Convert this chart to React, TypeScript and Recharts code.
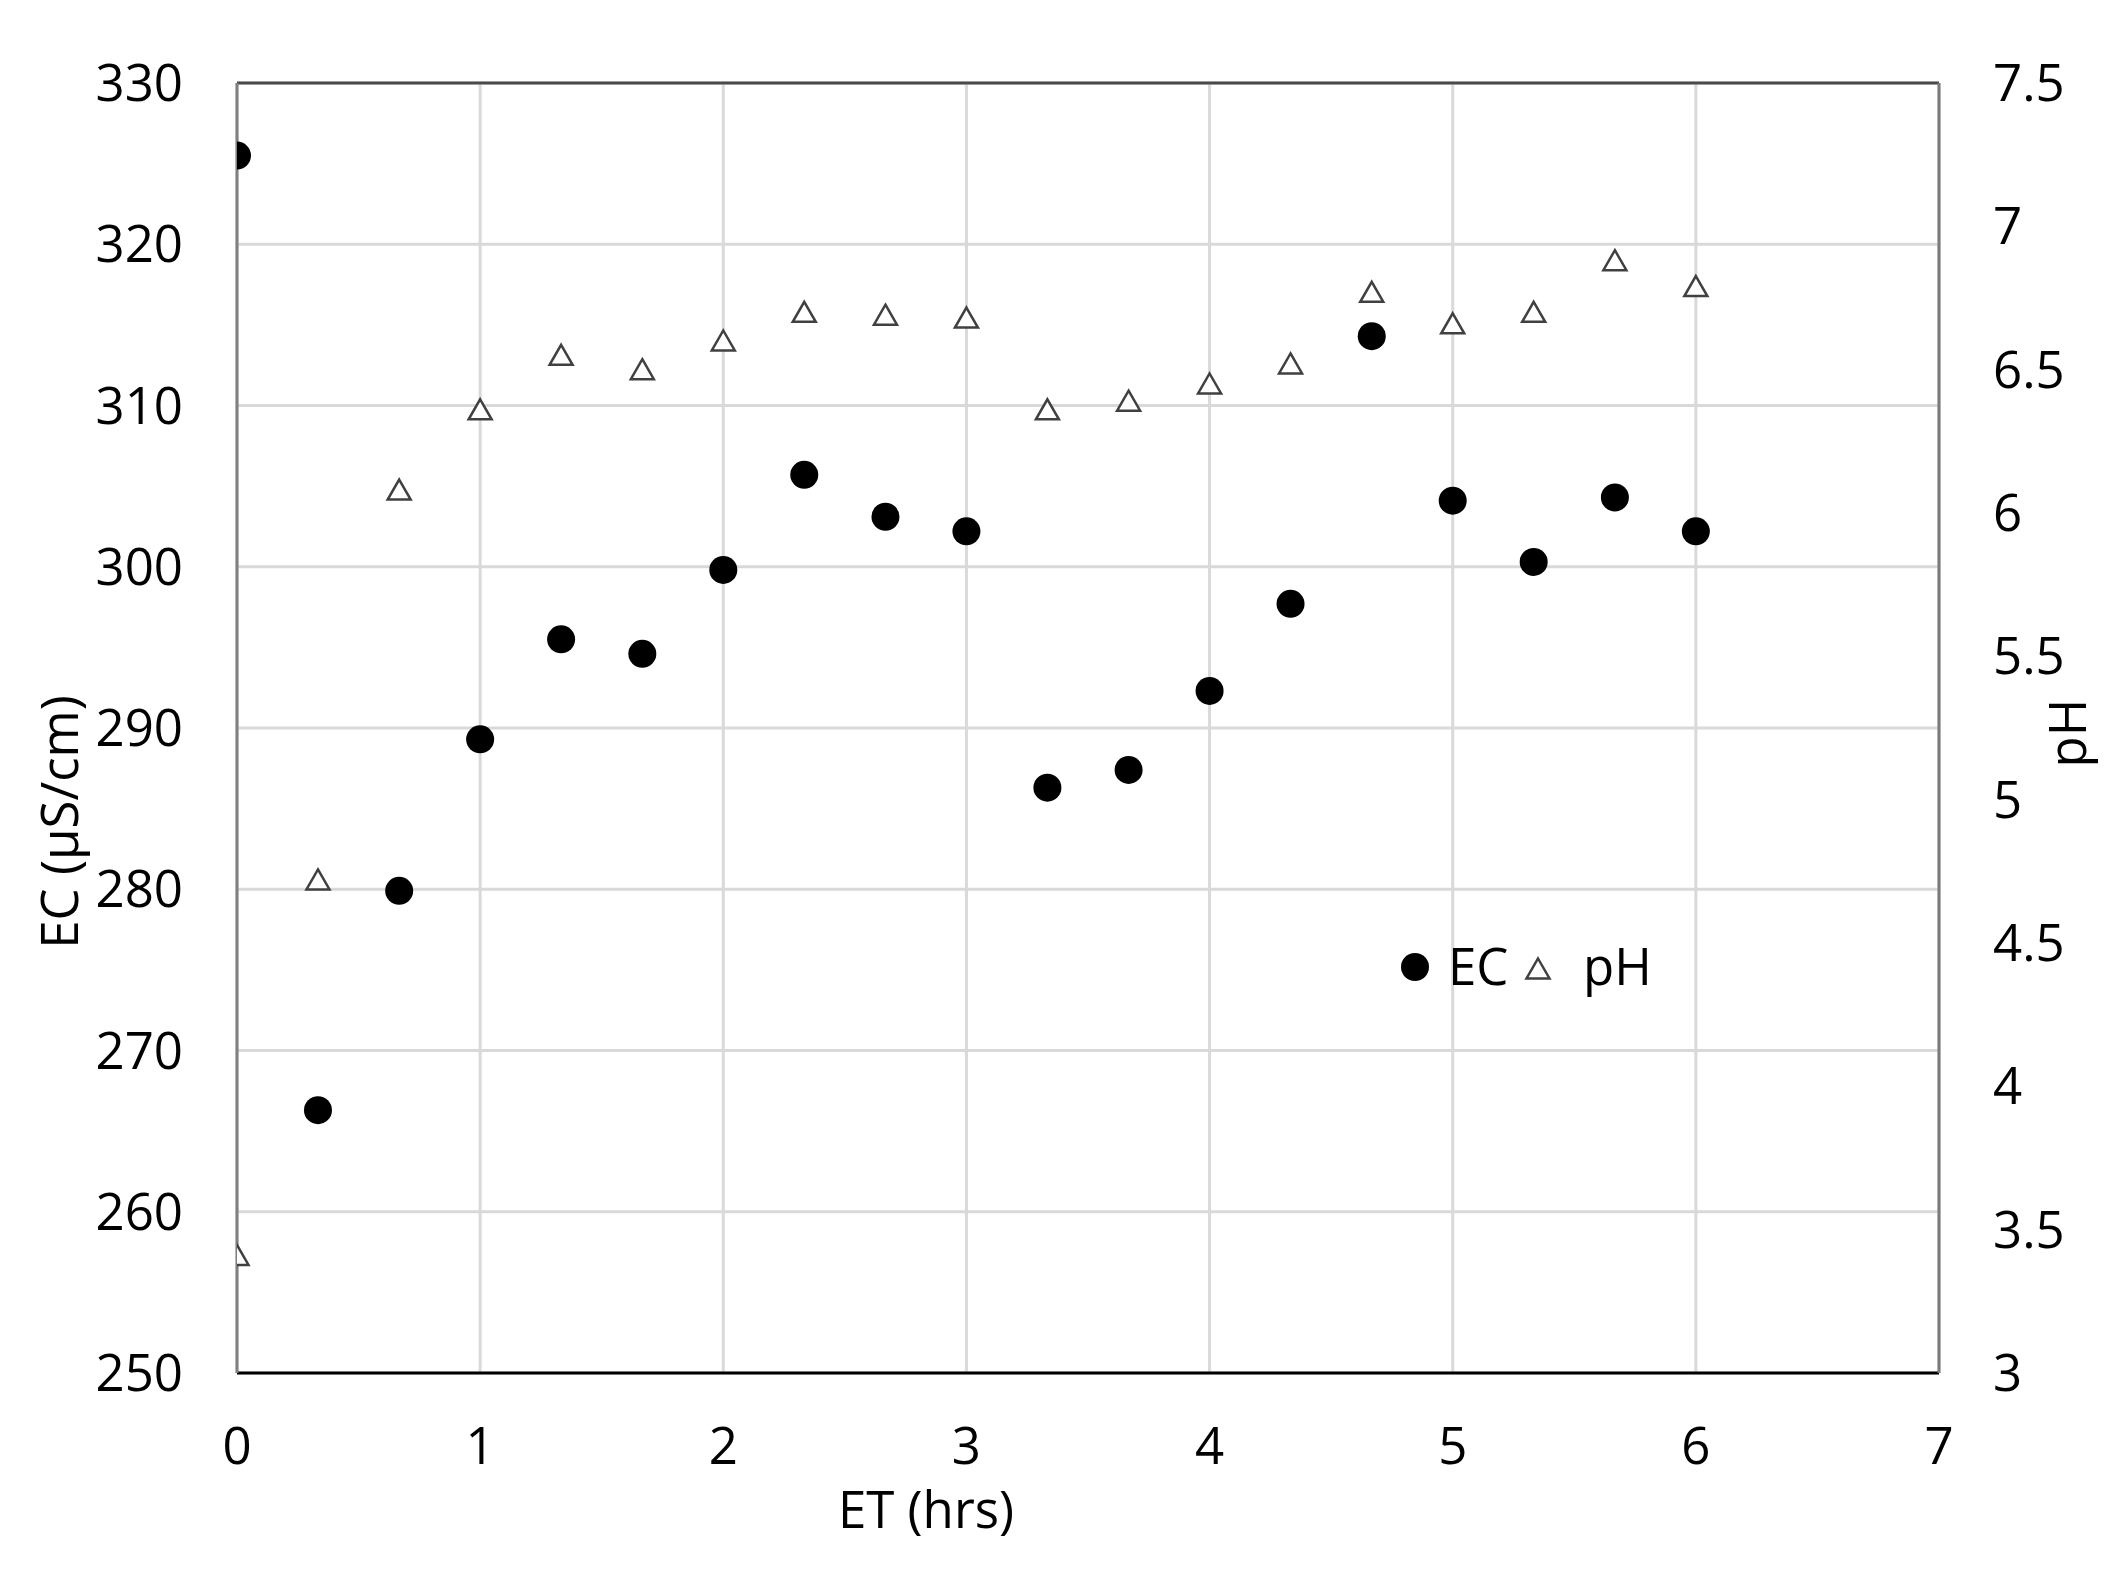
import React from 'react';
import {
  ScatterChart,
  Scatter,
  XAxis,
  YAxis,
  CartesianGrid,
  ReferenceLine,
  Customized,
} from 'recharts';

const TIME = [0, 0.333, 0.667, 1, 1.333, 1.667, 2, 2.333, 2.667, 3, 3.333, 3.667, 4, 4.333, 4.667, 5, 5.333, 5.667, 6];
const EC_VALUES = [325.5, 266.3, 279.9, 289.3, 295.5, 294.6, 299.8, 305.7, 303.1, 302.2, 286.3, 287.4, 292.3, 297.7, 314.3, 304.1, 300.3, 304.3, 302.2];
const PH_VALUES = [3.41, 4.72, 6.08, 6.36, 6.55, 6.5, 6.6, 6.7, 6.69, 6.68, 6.36, 6.39, 6.45, 6.52, 6.77, 6.66, 6.7, 6.88, 6.79];

const X_TICKS = [0, 1, 2, 3, 4, 5, 6, 7];
const EC_TICKS = [250, 260, 270, 280, 290, 300, 310, 320, 330];
const PH_TICKS = [3, 3.5, 4, 4.5, 5, 5.5, 6, 6.5, 7, 7.5];

const ecData = TIME.map((t, i) => ({ t, v: EC_VALUES[i] }));
const phData = TIME.map((t, i) => ({ t, v: PH_VALUES[i] }));

const FONT = 'Open Sans, Noto Sans, sans-serif';
const FS = 51;

const tickStyle = { fontSize: FS, fill: '#000', fontFamily: FONT };

const CircleShape = (props: any) => {
  const { cx, cy } = props;
  if (cx == null || cy == null) return null;
  return <circle cx={cx} cy={cy} r={14} fill="#000" />;
};

const triPoints = (cx: number, cy: number) =>
  `${cx},${cy - 10.5} ${cx + 11.5},${cy + 9.5} ${cx - 11.5},${cy + 9.5}`;

const TriangleShape = (props: any) => {
  const { cx, cy } = props;
  if (cx == null || cy == null) return null;
  return (
    <polygon
      points={triPoints(cx, cy)}
      fill="#fff"
      stroke="#404040"
      strokeWidth={2.5}
      strokeLinejoin="miter"
    />
  );
};

const Decorations = () => (
  <g fontFamily={FONT} fontSize={FS} fill="#000">
    <text x={918} y={1520} textAnchor="middle">ET (hrs)</text>
    <text transform="translate(52,814) rotate(-90)" textAnchor="middle" dy="0.35em">
      EC (µS/cm)
    </text>
    <text transform="translate(2060,725) rotate(-90)" textAnchor="middle" dy="0.35em">
      pH
    </text>
    <circle cx={1407} cy={959} r={14} fill="#000" />
    <text x={1440} y={977}>EC</text>
    <polygon points={triPoints(1530, 961)} fill="#fff" stroke="#404040" strokeWidth={2.5} />
    <text x={1575} y={977}>pH</text>
  </g>
);

export default function App() {
  return (
    <ScatterChart
      width={2109}
      height={1573}
      margin={{ top: 75, right: 0, bottom: 58, left: 0 }}
      style={{ background: '#fff' }}
    >
      <CartesianGrid
        yAxisId="ec"
        stroke="#d9d9d9"
        strokeWidth={3}
        verticalPoints={undefined}
      />
      <XAxis
        type="number"
        dataKey="t"
        domain={[0, 7]}
        ticks={X_TICKS}
        allowDataOverflow
        height={150}
        tickLine={false}
        tickSize={0}
        tickMargin={55}
        axisLine={{ stroke: '#000', strokeWidth: 3 }}
        tick={tickStyle}
        interval={0}
      />
      <YAxis
        yAxisId="ec"
        type="number"
        dataKey="v"
        domain={[250, 330]}
        ticks={EC_TICKS}
        allowDataOverflow
        width={229}
        tickLine={false}
        tickSize={0}
        tickMargin={54}
        axisLine={{ stroke: '#808080', strokeWidth: 3 }}
        tick={tickStyle}
        interval={0}
      />
      <YAxis
        yAxisId="ph"
        orientation="right"
        type="number"
        dataKey="v"
        domain={[3, 7.5]}
        ticks={PH_TICKS}
        allowDataOverflow
        width={178}
        tickLine={false}
        tickSize={0}
        tickMargin={54}
        axisLine={{ stroke: '#7a7a7a', strokeWidth: 3 }}
        tick={tickStyle}
        interval={0}
      />
      <ReferenceLine yAxisId="ec" y={330} stroke="#4a4a4a" strokeWidth={3} />
      <Scatter
        yAxisId="ph"
        data={phData}
        shape={TriangleShape}
        isAnimationActive={false}
      />
      <Scatter
        yAxisId="ec"
        data={ecData}
        shape={CircleShape}
        isAnimationActive={false}
      />
      <Customized component={Decorations} />
    </ScatterChart>
  );
}
